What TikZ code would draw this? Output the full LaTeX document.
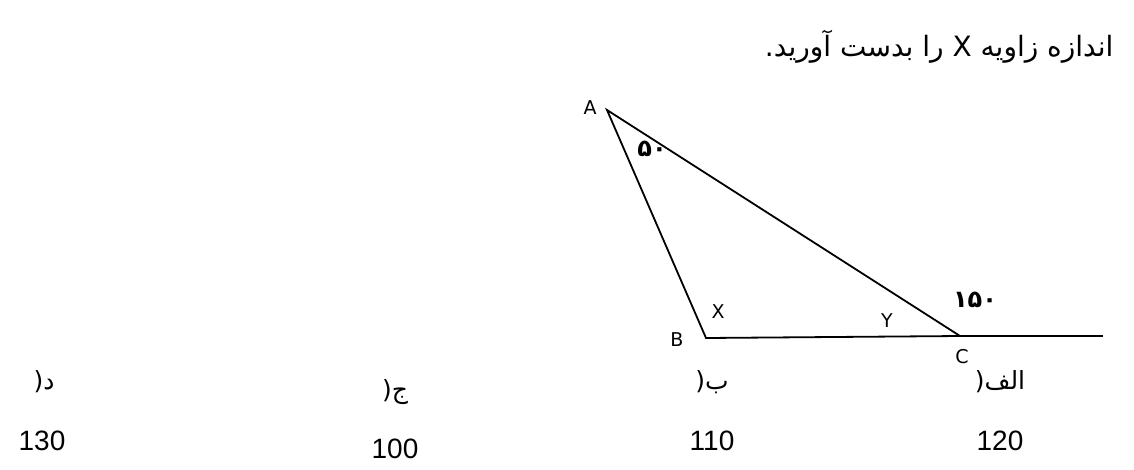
\documentclass[tikz,border=0pt]{standalone}
\usepackage{fontspec}
\setmainfont{DejaVu Sans}
\newfontfamily\arabicfont[Script=Arabic]{DejaVu Sans}
\newfontfamily\numfont{Liberation Sans}
\TeXXeTstate=1
\tikzset{
  side/.style={line width=1.8pt},
  vlabel/.style={font=\fontsize{19}{21}\selectfont},
  anglabel/.style={font=\arabicfont\bfseries\fontsize{24}{26}\selectfont},
  optlabel/.style={font=\arabicfont\fontsize{25}{27}\selectfont},
  optnum/.style={font=\numfont\fontsize{28}{30}\selectfont}
}
\begin{document}
\begin{tikzpicture}[x=1pt,y=-1pt]
\useasboundingbox (0,0) rectangle (1134,469);
\node[anchor=east,font=\arabicfont\fontsize{28}{30}\selectfont] (title) at (1117,47) {\beginR اندازه زاویه X را بدست آورید.\endR};
%triangle
\coordinate (A) at (607,110);
\coordinate (B) at (706,338);
\coordinate (C) at (960,336);
\coordinate (E) at (1103,336);
\draw[side] (A) -- (B) -- (C) -- cycle;
\draw[side] (C) -- (E); %extension
\node[vlabel] (lA) at (590,108) {A};
\node[vlabel] (lB) at (677,340) {B};
\node[vlabel] (lC) at (962,357) {C};
\node[vlabel] (lX) at (718,312) {X};
\node[vlabel] (lY) at (887,321) {Y};
\node[anglabel] (a50) at (652,149) {\beginR ۵۰\endR};
\node[anglabel] (a150) at (975,300) {\beginR ۱۵۰\endR};
%choices
\node[optlabel] (o1) at (1000,382) {(\beginR الف\endR};
\node[optlabel] (o2) at (712,382) {(\beginR ب\endR};
\node[optlabel] (o3) at (395,392) {(\beginR ج\endR};
\node[optlabel] (o4) at (44,382) {(\beginR د\endR};
\node[optnum] (n1) at (1000,441) {120};
\node[optnum] (n2) at (712,441) {110};
\node[optnum] (n3) at (395,449) {100};
\node[optnum] (n4) at (42,441) {130};
\end{tikzpicture}
\end{document}
